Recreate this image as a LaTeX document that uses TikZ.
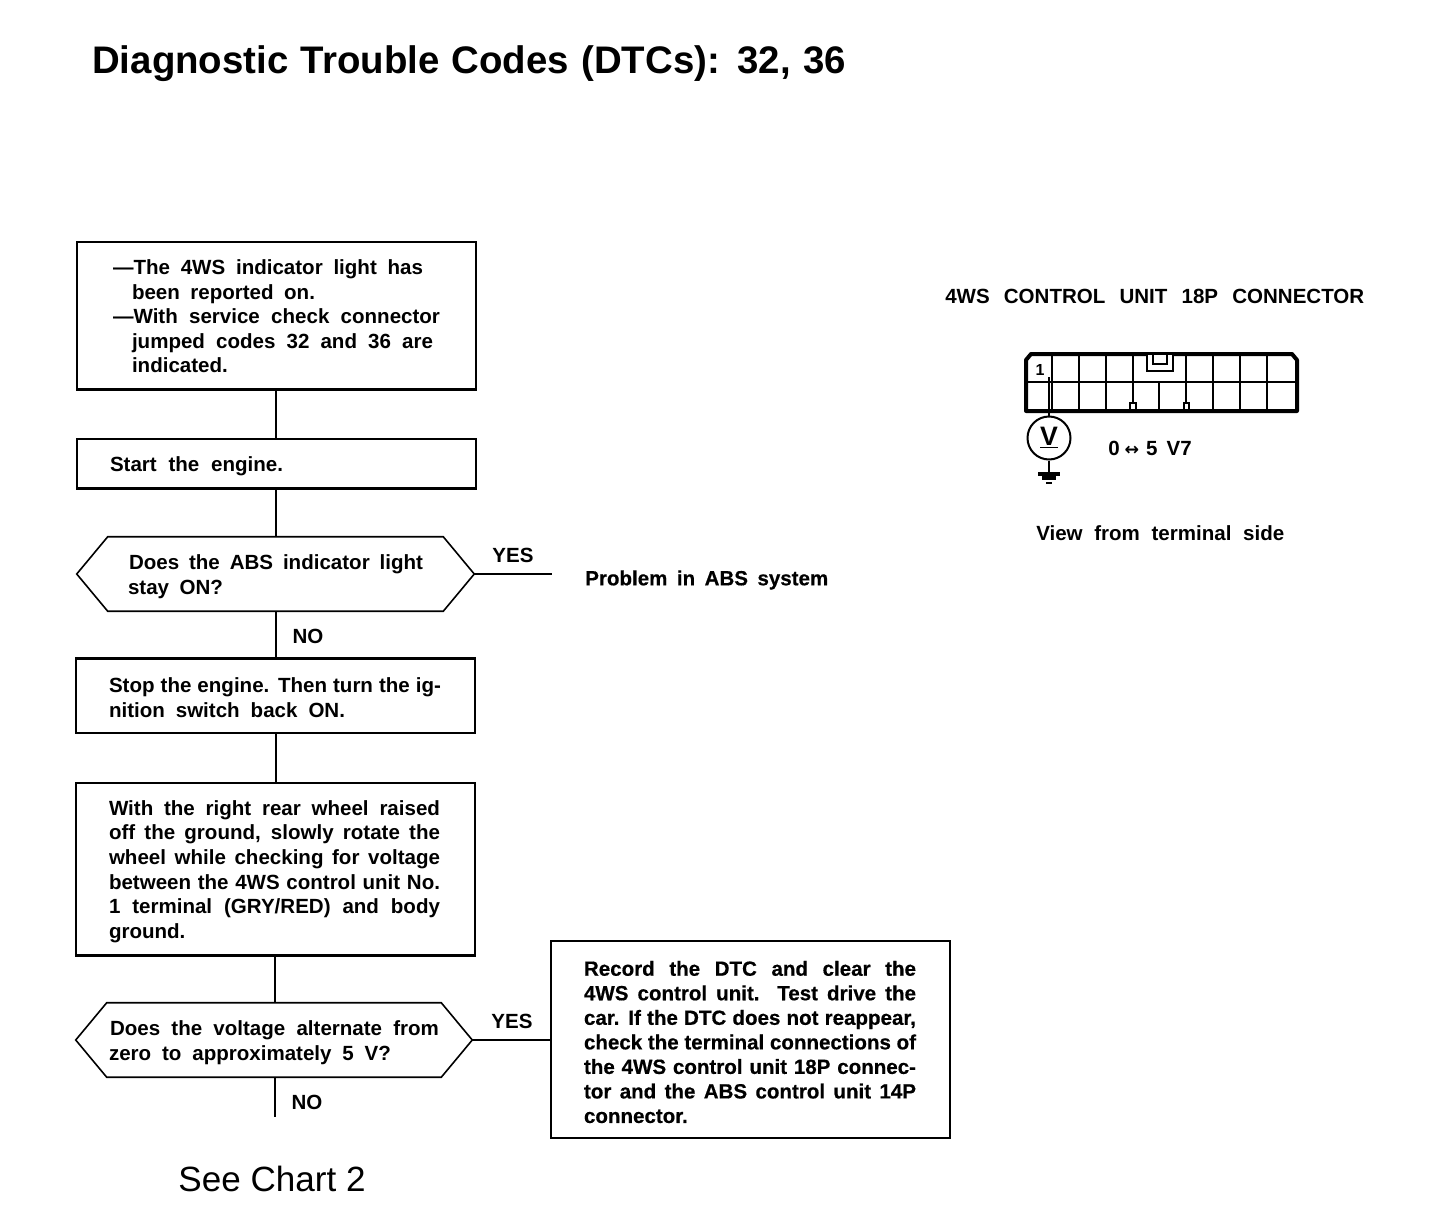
\documentclass[tikz,border=0pt]{standalone}
\usepackage{fontspec}
\usetikzlibrary{calc}
\setmainfont{Liberation Sans}
\newfontfamily\arrowfont{DejaVu Sans}
\newfontfamily\heavy{Liberation Sans}[BoldFeatures={FakeBold=0.5}]
\newdimen\pxu \pxu=0.75pt
\hbadness=10000 \hfuzz=50pt
\newcommand{\tl}[3]{\hbox{\hskip#1\pxu\hbox to #2\pxu{#3}}}
\newcommand{\boxtext}[3][5]{\vbox{\hrule height0pt width#2\pxu \vskip#1\pxu #3}}
\tikzset{
  x=0.75pt,y=-0.75pt,
  txt/.style={font=\fontsize{15.4pt}{18.4pt}\bfseries\selectfont,inner sep=0pt},
  heavytxt/.style={font=\fontsize{15.4pt}{18.4pt}\heavy\bfseries\selectfont,inner sep=0pt},
  stepbox/.style={txt,draw,line width=1.5pt,anchor=center},
  hexbody/.style={txt},
  hexline/.style={line width=1.2pt,line join=miter},
  link/.style={line width=1.2pt},
  yesline/.style={line width=2.2pt},
  heavyedge/.style={line width=2.6pt},
  lab/.style={txt,anchor=center},
  grid/.style={line width=1.4pt},
}
\begin{document}
\begin{tikzpicture}
\useasboundingbox[fill=white] (0,0) rectangle (1440,1224);

\node[lab,font=\fontsize{28.8pt}{32pt}\bfseries\selectfont,anchor=west] (title) at (92,64) {\hbox to 754\pxu{Diagnostic Trouble Codes (DTCs): 32, 36}};

% Flow boxes
\node[stepbox,minimum width=399\pxu,minimum height=147\pxu] (a) at (276.5,315.5) {\boxtext[2]{399}{
 \tl{36}{310}{—The 4WS indicator light has}
 \tl{55}{183}{been reported on.}
 \tl{36}{327}{—With service check connector}
 \tl{55}{301}{jumped codes 32 and 36 are}
 \tl{55}{99}{indicated.}}};
\node[stepbox,minimum width=399\pxu,minimum height=49\pxu] (b) at (276.5,463.5) {\boxtext{399}{
 \tl{33}{173}{Start the engine.}}};
\node[hexbody,minimum width=397\pxu,minimum height=74\pxu] (c) at (275.5,574) {\boxtext{397}{
 \tl{52}{294}{Does the ABS indicator light}
 \tl{51}{95}{stay ON?}}};
\node[stepbox,minimum width=399\pxu,minimum height=74\pxu] (d) at (275.5,696) {\boxtext[3]{399}{
 \tl{33}{332}{Stop the engine. Then turn the ig-}
 \tl{33}{236}{nition switch back ON.}}};
\node[stepbox,minimum width=399\pxu,minimum height=172\pxu] (e) at (275.5,869) {\boxtext{399}{
 \tl{33}{331}{With the right rear wheel raised}
 \tl{33}{331}{off the ground, slowly rotate the}
 \tl{33}{331}{wheel while checking for voltage}
 \tl{33}{331}{between the 4WS control unit No.}
 \tl{33}{331}{1 terminal (GRY/RED) and body}
 \tl{33}{77}{ground.}}};
\node[hexbody,minimum width=396\pxu,minimum height=74\pxu] (f) at (274,1040) {\boxtext{396}{
 \tl{34}{329}{Does the voltage alternate from}
 \tl{33}{282}{zero to approximately 5 V?}}};
\node[stepbox,heavytxt,line width=2pt,minimum width=399\pxu,minimum height=197\pxu] (g) at (750.5,1039.5) {\boxtext{399}{
 \tl{33}{332}{Record the DTC and clear the}
 \tl{33}{332}{4WS control unit. Test drive the}
 \tl{33}{332}{car. If the DTC does not reappear,}
 \tl{33}{332}{check the terminal connections of}
 \tl{33}{332}{the 4WS control unit 18P connec-}
 \tl{33}{332}{tor and the ABS control unit 14P}
 \tl{33}{108}{connector.}}};

% Heavier box edges
\draw[heavyedge] ($(a.south west)+(0,-0.5)$) -- ($(a.south east)+(0,-0.5)$);
\draw[heavyedge] ($(b.south west)+(0,-0.5)$) -- ($(b.south east)+(0,-0.5)$);
\draw[heavyedge] ($(d.north west)+(0,0.5)$) -- ($(d.north east)+(0,0.5)$);
\draw[heavyedge] ($(e.south west)+(0,-0.5)$) -- ($(e.south east)+(0,-0.5)$);

% Hexagons
\draw[hexline] (c.west) -- ($(c.north west)+(31,0)$) -- ($(c.north east)+(-31,0)$) -- (c.east)
  -- ($(c.south east)+(-31,0)$) -- ($(c.south west)+(31,0)$) -- cycle;
\draw[hexline] (f.west) -- ($(f.north west)+(31,0)$) -- ($(f.north east)+(-31,0)$) -- (f.east)
  -- ($(f.south east)+(-31,0)$) -- ($(f.south west)+(31,0)$) -- cycle;

% Connectors
\draw[link] (a.south -| 276,0) -- (b.north -| 276,0);
\draw[link] (b.south -| 276,0) -- (c.north -| 276,0);
\draw[link] (c.south -| 276,0) -- (d.north -| 276,0);
\draw[link] (d.south -| 276,0) -- (e.north -| 276,0);
\draw[link] (e.south -| 275,0) -- (f.north -| 275,0);
\coordinate (fend) at (275,1117);
\draw[link] (f.south -| fend) -- (fend);
\coordinate (yesend) at (552,574);
\draw[yesline] (c.east) -- (yesend);
\draw[yesline] (f.east) -- (f.east -| g.west);

% Labels
\node[lab] (yes1) at (513,555) {YES};
\node[lab] (no1) at (308,636) {NO};
\node[lab] (yes2) at (512,1021) {YES};
\node[lab] (no2) at (307,1102) {NO};
\node[lab,heavytxt,anchor=west] (prob) at (585,580) {\hbox to 243\pxu{Problem in ABS system}};
\node[inner sep=0pt,font=\fontsize{26.3pt}{30pt}\selectfont] (see) at (272,1179) {See Chart 2};

% Connector drawing
\node[lab,anchor=west] (ctitle) at (945,296) {\hbox to 419\pxu{4WS CONTROL UNIT 18P CONNECTOR}};
\draw[line width=3pt,line join=round] (1026,360) -- (1031,354) -- (1292,354) -- (1297,360) -- (1297,411) -- (1026,411) -- cycle;
\draw[grid] (1026,382) -- (1297,382);
\foreach \gx in {1052,1079,1106,1133,1186,1213,1240,1267} \draw[grid] (\gx,354) -- (\gx,411);
\draw[grid] (1159,382) -- (1159,411);
\draw[line width=2pt,fill=white] (1147,354) rectangle (1173,371);
\draw[line width=1.5pt,fill=white] (1153,354) rectangle (1167,364);
\draw[line width=1.2pt,fill=white] (1130,403) rectangle (1136,410);
\draw[line width=1.2pt,fill=white] (1184,403) rectangle (1189,410);
\node[inner sep=0pt,font=\fontsize{12pt}{14pt}\bfseries\selectfont] (one) at (1040,370) {1};
\node[circle,draw,line width=1.5pt,minimum size=43\pxu,inner sep=0pt,font=\fontsize{20pt}{22pt}\bfseries\selectfont] (meter) at (1049,438) {\underline{V}};
\coordinate (pin) at (1049,377);
\coordinate (gnd) at (1049,474);
\draw[link] (pin) -- (meter);
\draw[link] (meter) -- (gnd);
\draw[line width=3pt] ($(gnd)+(-11,0)$) -- ($(gnd)+(11,0)$);
\draw[line width=3pt] ($(gnd)+(-7,4)$) -- ($(gnd)+(7,4)$);
\draw[line width=1.5pt] ($(gnd)+(-3,9)$) -- ($(gnd)+(3,9)$);
\node[lab,anchor=west] (volt) at (1108,448) {0\hskip5\pxu{\arrowfont\fontsize{13pt}{14pt}\selectfont ↔}\hskip7\pxu 5\hskip9\pxu V7};
\node[lab,anchor=west] (view) at (1036,533) {\hbox to 248\pxu{View from terminal side}};
\end{tikzpicture}
\end{document}
